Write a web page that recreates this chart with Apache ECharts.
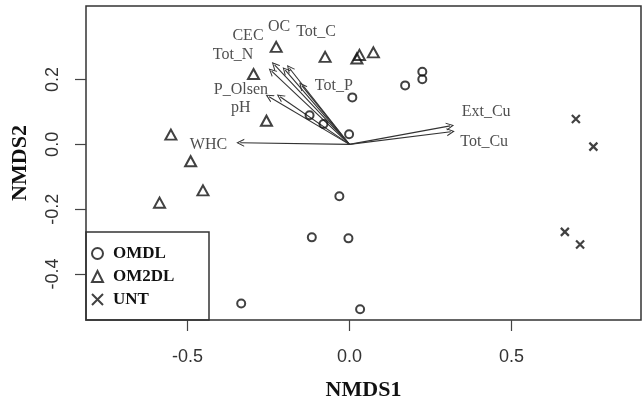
<!DOCTYPE html>
<html>
<head>
<meta charset="utf-8">
<script src="https://cdn.jsdelivr.net/npm/echarts@6/dist/echarts.min.js"></script>
<style>
  html, body { margin: 0; padding: 0; background: #fff; }
  #main { width: 643px; height: 397px; }
</style>
</head>
<body>
<div id="main"></div>
<script>
// site scores (NMDS1, NMDS2)
var omdl = [[0.172, 0.182], [0.225, 0.224], [0.225, 0.201], [0.009, 0.145],
  [-0.123, 0.090], [-0.080, 0.063], [-0.001, 0.031], [-0.031, -0.160],
  [-0.116, -0.287], [-0.003, -0.290], [-0.334, -0.491], [0.033, -0.509]];
var om2dl = [[-0.226, 0.301], [-0.296, 0.217], [-0.256, 0.073], [-0.551, 0.030],
  [-0.490, -0.052], [-0.452, -0.142], [-0.586, -0.180], [-0.075, 0.270],
  [0.023, 0.265], [0.031, 0.276], [0.074, 0.284]];
var unt = [[0.699, 0.078], [0.753, -0.007], [0.665, -0.270], [0.712, -0.309]];

// fitted vectors: name, arrow tip, label position
var vecNames = ["WHC", "P_Olsen", "pH", "Tot_N", "CEC", "OC", "Tot_C", "Tot_P", "Ext_Cu", "Tot_Cu"];
var vecTips = [[-0.337, 0.005], [-0.248, 0.147], [-0.214, 0.147], [-0.231, 0.245],
  [-0.240, 0.226], [-0.198, 0.229], [-0.185, 0.235], [-0.147, 0.181],
  [0.311, 0.057], [0.313, 0.039]];
var vecLabelPos = [[-0.435, 0.0], [-0.335, 0.168], [-0.335, 0.114], [-0.359, 0.276],
  [-0.313, 0.334], [-0.217, 0.363], [-0.103, 0.346], [-0.048, 0.180],
  [0.422, 0.101], [0.416, 0.007]];

var xTicks = [-0.5, 0, 0.5];
var yTicks = [-0.4, -0.2, 0, 0.2];

var hollow = { color: "rgba(0,0,0,0)", borderColor: "#111", borderWidth: 2 };
var crossPath = "path://M0,0L10,10M0,10L10,0";
var arrowHead = "path://M0,10L5,0L10,10L8.6,10L5,2.8L1.4,10Z";

var arrows = [];
var labels = [];
for (var i = 0; i < vecNames.length; i++) {
  arrows.push({ coords: [[0, 0], vecTips[i]] });
  labels.push({ name: vecNames[i], value: vecLabelPos[i] });
}

var myChart = echarts.init(document.getElementById("main"));
myChart.setOption({
  animation: false,
  grid: {
    left: 86, right: 2, top: 6, bottom: 77,
    outerBoundsMode: "none",
    containLabel: false,
    show: true, borderColor: "#333", borderWidth: 1.5
  },
  legend: {
    orient: "vertical",
    left: 86,
    top: 240,
    itemWidth: 11,
    itemHeight: 11,
    itemGap: 6,
    textStyle: {
      fontFamily: "Liberation Serif", fontWeight: "bold", fontSize: 17,
      color: "#111", padding: [0, 0, 0, 5]
    },
    data: ["OMDL", "OM2DL", "UNT"]
  },
  graphic: [{
    type: "rect",
    shape: { x: 86, y: 232, width: 123, height: 88 },
    style: { fill: "none", stroke: "#333", lineWidth: 1.5 },
    z: 1
  }],
  xAxis: {
    type: "value",
    min: -0.813, max: 0.900,
    name: "NMDS1",
    nameLocation: "middle",
    nameGap: 59,
    nameTextStyle: { fontFamily: "Liberation Serif", fontWeight: "bold", fontSize: 22, color: "#111" },
    axisLine: { show: false, onZero: false },
    splitLine: { show: false },
    axisTick: { show: true, length: 11, customValues: xTicks, lineStyle: { color: "#444", width: 1.2 } },
    axisLabel: {
      customValues: xTicks, margin: 28,
      fontFamily: "Liberation Sans", fontSize: 18, color: "#333",
      formatter: function (v) { return v.toFixed(1); }
    }
  },
  yAxis: {
    type: "value",
    min: -0.542, max: 0.427,
    name: "NMDS2",
    nameLocation: "middle",
    nameGap: 55,
    nameTextStyle: { fontFamily: "Liberation Serif", fontWeight: "bold", fontSize: 22, color: "#111" },
    axisLine: { show: false, onZero: false },
    splitLine: { show: false },
    axisTick: { show: true, length: 11, customValues: yTicks, lineStyle: { color: "#444", width: 1.2 } },
    axisLabel: {
      customValues: yTicks, margin: 24, rotate: 90,
      fontFamily: "Liberation Sans", fontSize: 18, color: "#333",
      formatter: function (v) { return v.toFixed(1); }
    }
  },
  series: [
    {
      type: "lines",
      coordinateSystem: "cartesian2d",
      symbol: ["none", arrowHead],
      symbolSize: 8,
      lineStyle: { color: "#333", width: 1.1, opacity: 1 },
      data: arrows,
      silent: true,
      z: 3
    },
    {
      type: "scatter",
      symbolSize: 0,
      data: labels,
      label: {
        show: true, position: "inside",
        formatter: "{b}",
        fontFamily: "Liberation Serif", fontSize: 16, color: "#222"
      },
      silent: true,
      z: 4
    },
    {
      name: "OMDL", type: "scatter", symbol: "circle", symbolSize: 8,
      itemStyle: hollow, data: omdl, z: 5
    },
    {
      name: "OM2DL", type: "scatter", symbol: "triangle", symbolSize: [11, 10],
      itemStyle: hollow, data: om2dl, z: 5
    },
    {
      name: "UNT", type: "scatter", symbol: crossPath, symbolSize: 8,
      itemStyle: { color: "rgba(0,0,0,0)", borderColor: "#111", borderWidth: 2.2 },
      data: unt, z: 5
    }
  ]
});
</script>
</body>
</html>
